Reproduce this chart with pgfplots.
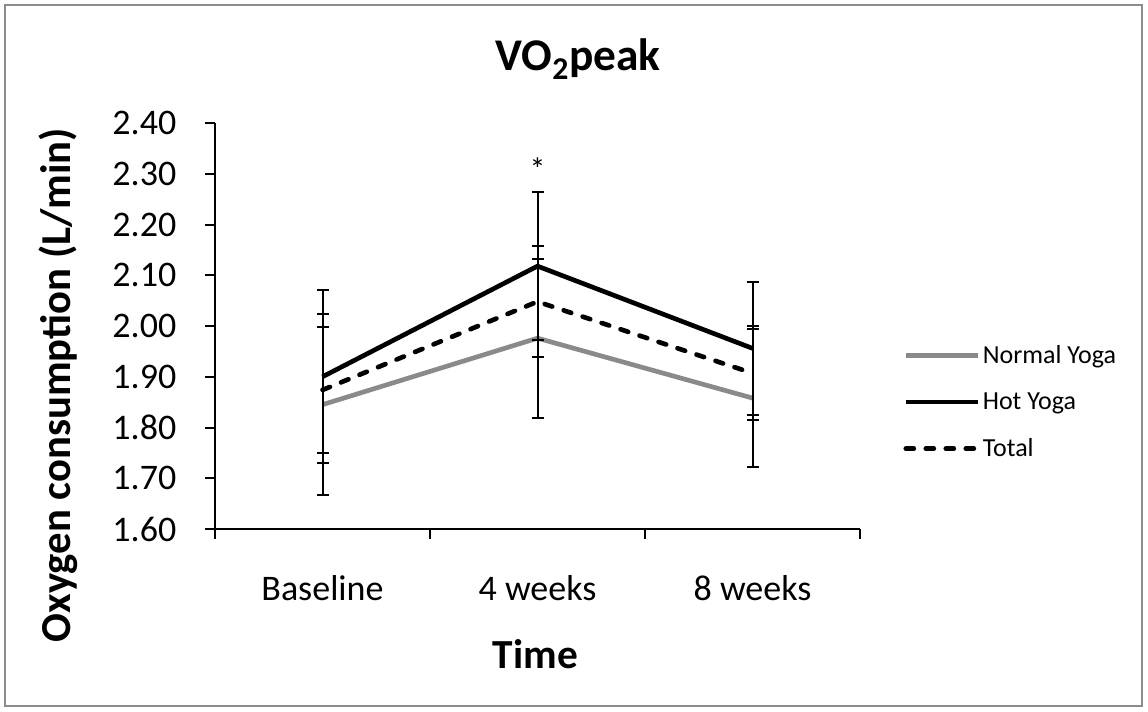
\documentclass[border=0pt]{standalone}
\usepackage{fontspec}
\setmainfont{Carlito}
\usepackage{pgfplots}
\pgfplotsset{compat=1.18}
\definecolor{normalgray}{HTML}{8A8A8A}
\definecolor{framegray}{HTML}{8C8C8C}
\begin{document}
\begin{tikzpicture}
\useasboundingbox (0pt,0pt) rectangle (861pt,-534pt);
\draw[framegray, line width=1.1pt] (3.75pt,-3.75pt) rectangle (856.5pt,-529.5pt);
\node[font=\bfseries\fontsize{34}{40}\selectfont] at (433.5pt,-44.25pt) {VO\textsubscript{2}peak};
\node[font=\bfseries\fontsize{32}{38}\selectfont, rotate=90] at (43.5pt,-288.75pt) {Oxygen consumption (L/min)};
\node[font=\bfseries\fontsize{31}{36}\selectfont] at (401.6pt,-490.5pt) {Time};
\begin{axis}[
  at={(161.25pt,-396.75pt)}, anchor=south west,
  scale only axis, width=483.75pt, height=304.5pt,
  xmin=0, xmax=3, ymin=1.6, ymax=2.4,
  axis x line*=bottom, axis y line*=left,
  axis line style={-, black, line width=2pt},
  xtick={0.5,1.5,2.5}, xticklabels={Baseline,4 weeks,8 weeks},
  major x tick style={draw=none},
  minor xtick={0,1,2,3},
  minor tick length=7.5pt,
  ytick={1.6,1.7,1.8,1.9,2.0,2.1,2.2,2.3,2.4},
  yticklabel style={xshift=-18pt, /pgf/number format/fixed, /pgf/number format/fixed zerofill, /pgf/number format/precision=2},
  /pgf/number format/assume math mode=true,
  tick align=outside, major tick length=7.5pt,
  tick style={black, line width=1.5pt},
  tick label style={font=\fontsize{27}{32}\selectfont},
  xticklabel style={yshift=-23.5pt},
  clip=false,
  legend style={draw=none, fill=none, at={(1.067,0.3128)}, anchor=west,
    font=\fontsize{19.5}{23}\selectfont, row sep=16.5pt, inner sep=0pt,
    cells={anchor=west}},
  legend image code/.code={\draw[#1] (0pt,0pt) -- (54pt,0pt);},
]
\addplot[normalgray, line width=3.5pt, line join=round,
  error bars/.cd, y dir=both, y explicit,
  error bar style={black, line width=1.5pt, solid},
  error mark options={rotate=90, mark size=4.5pt, line width=1.5pt, black, solid}]
  coordinates {(0.5,1.845) +- (0,0.178) (1.5,1.976) +- (0,0.157) (2.5,1.858) +- (0,0.136)};
\addlegendentry{Normal Yoga}
\addplot[black, line width=3.5pt, line join=round,
  error bars/.cd, y dir=both, y explicit,
  error bar style={black, line width=1.5pt, solid},
  error mark options={rotate=90, mark size=4.5pt, line width=1.5pt, black, solid}]
  coordinates {(0.5,1.90) +- (0,0.17) (1.5,2.118) +- (0,0.146) (2.5,1.956) +- (0,0.131)};
\addlegendentry{Hot Yoga}
\addplot[black, line width=3.5pt, line join=round, line cap=round, dash pattern=on 6pt off 9pt,
  error bars/.cd, y dir=both, y explicit,
  error bar style={black, line width=1.5pt, solid},
  error mark options={rotate=90, mark size=4.5pt, line width=1.5pt, black, solid}]
  coordinates {(0.5,1.874) +- (0,0.124) (1.5,2.048) +- (0,0.11) (2.5,1.907) +- (0,0.093)};
\addlegendentry{Total}
\node[font=\fontsize{24}{28}\selectfont] at (axis cs:1.5,2.31) {*};
\end{axis}
\end{tikzpicture}
\end{document}
